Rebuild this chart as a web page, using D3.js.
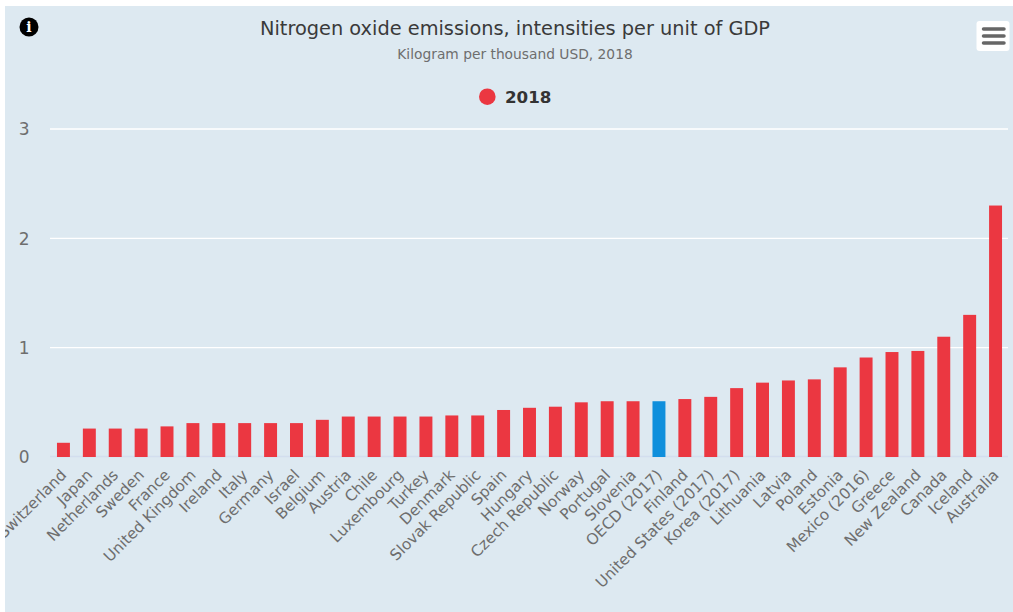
<!DOCTYPE html>
<html>
<head>
<meta charset="utf-8">
<script src="https://cdn.jsdelivr.net/npm/d3@7"></script>
<style>
html, body { margin: 0; padding: 0; background: #fff; }
svg { display: block; font-family: "DejaVu Sans", sans-serif; }
</style>
</head>
<body>
<div id="chart"></div>
<script>
const countries = ["Switzerland", "Japan", "Netherlands", "Sweden", "France", "United Kingdom", "Ireland", "Italy", "Germany", "Israel", "Belgium", "Austria", "Chile", "Luxembourg", "Turkey", "Denmark", "Slovak Republic", "Spain", "Hungary", "Czech Republic", "Norway", "Portugal", "Slovenia", "OECD (2017)", "Finland", "United States (2017)", "Korea (2017)", "Lithuania", "Latvia", "Poland", "Estonia", "Mexico (2016)", "Greece", "New Zealand", "Canada", "Iceland", "Australia"];
const values = [0.13, 0.26, 0.26, 0.26, 0.28, 0.31, 0.31, 0.31, 0.31, 0.31, 0.34, 0.37, 0.37, 0.37, 0.37, 0.38, 0.38, 0.43, 0.45, 0.46, 0.5, 0.51, 0.51, 0.51, 0.53, 0.55, 0.63, 0.68, 0.7, 0.71, 0.82, 0.91, 0.96, 0.97, 1.1, 1.3, 2.3];
const yTicks = [0, 1, 2, 3];
const highlight = "OECD (2017)";

const width = 1013, height = 612;

const svg = d3.select("#chart").append("svg")
    .attr("width", width)
    .attr("height", height);

svg.append("clipPath").attr("id", "panel")
    .append("rect").attr("x", 5).attr("y", 6).attr("width", width - 5).attr("height", height - 6);

const g = svg.append("g").attr("clip-path", "url(#panel)");

g.append("rect")
    .attr("x", 5).attr("y", 6)
    .attr("width", width - 5).attr("height", height - 6)
    .attr("fill", "#dde9f1");

const x = d3.scaleBand().domain(countries).range([50.5, 1008.5]).paddingInner(0.5).paddingOuter(0.25);
const y = d3.scaleLinear().domain([0, 3]).range([457, 129]);

// gridlines
g.selectAll(".grid")
    .data(yTicks)
    .join("line")
    .attr("x1", 50).attr("x2", 1008)
    .attr("y1", d => d === 0 ? y(d) - 0.5 : y(d)).attr("y2", d => d === 0 ? y(d) - 0.5 : y(d))
    .attr("stroke", d => d === 0 ? "#d3deee" : "#fff")
    .attr("stroke-width", 1.4);

g.selectAll(".ylabel")
    .data(yTicks)
    .join("text")
    .attr("x", 29.5)
    .attr("y", d => y(d) + 6.2)
    .attr("text-anchor", "end")
    .attr("font-size", 17)
    .attr("fill", "#6e6e6e")
    .text(d => d);

g.selectAll(".bar")
    .data(countries)
    .join("rect")
    .attr("x", d => x(d))
    .attr("width", x.bandwidth())
    .attr("y", (d, i) => y(values[i]))
    .attr("height", (d, i) => y(0) - y(values[i]))
    .attr("fill", d => d === highlight ? "#0f8fdc" : "#eb3741");

g.selectAll(".xlabel")
    .data(countries)
    .join("text")
    .attr("text-anchor", "end")
    .attr("font-size", 15.3)
    .attr("fill", "#6e6e6e")
    .attr("transform", d => `translate(${x(d) + x.bandwidth() / 2 + 4},${476}) rotate(-45)`)
    .text(d => d);

// title block
g.append("text")
    .attr("x", 515).attr("y", 35)
    .attr("text-anchor", "middle")
    .attr("font-size", 19.35)
    .attr("fill", "#3a3a3a")
    .text("Nitrogen oxide emissions, intensities per unit of GDP");

g.append("text")
    .attr("x", 515).attr("y", 59)
    .attr("text-anchor", "middle")
    .attr("font-size", 13.8)
    .attr("fill", "#6e6e6e")
    .text("Kilogram per thousand USD, 2018");

// legend
g.append("circle").attr("cx", 487.3).attr("cy", 96.7).attr("r", 8.3).attr("fill", "#eb3741");
g.append("text")
    .attr("x", 505).attr("y", 103)
    .attr("font-size", 16.7)
    .attr("font-weight", "bold")
    .attr("fill", "#333")
    .text("2018");

// info icon
g.append("circle").attr("cx", 29).attr("cy", 27).attr("r", 9.5).attr("fill", "#000");
g.append("text")
    .attr("x", 29).attr("y", 32)
    .attr("text-anchor", "middle")
    .attr("font-size", 14)
    .attr("font-weight", "bold")
    .attr("font-family", "DejaVu Serif")
    .attr("fill", "#fff")
    .text("i");

// menu button
g.append("rect")
    .attr("x", 976.5).attr("y", 21)
    .attr("width", 33).attr("height", 30)
    .attr("rx", 3)
    .attr("fill", "#fff");
g.selectAll(".menu")
    .data([29, 36, 43])
    .join("line")
    .attr("x1", 983.5).attr("x2", 1004)
    .attr("y1", d => d).attr("y2", d => d)
    .attr("stroke", "#666")
    .attr("stroke-width", 3.5)
    .attr("stroke-linecap", "round");
</script>
</body>
</html>
